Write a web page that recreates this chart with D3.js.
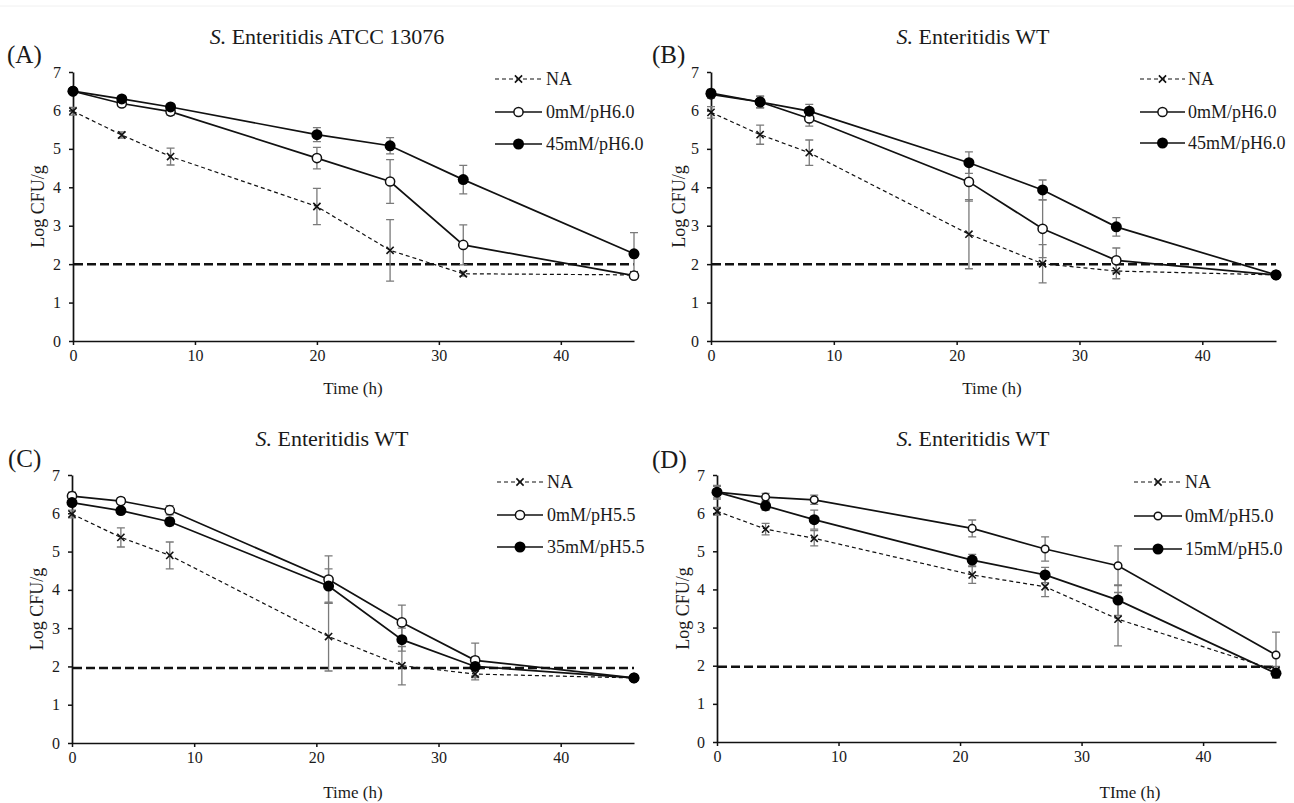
<!DOCTYPE html>
<html><head><meta charset="utf-8">
<script src="https://cdn.jsdelivr.net/npm/d3@7"></script>
<style>
body{margin:0;background:#fff;}
svg text{font-family:"Liberation Serif","Times New Roman",serif;fill:#1a1a1a;}
</style></head><body>
<svg id="c" width="1294" height="803"></svg>
<script>
// ---------- data ----------
const timesA = [0, 4, 8, 20, 26, 32, 46];
const timesB = [0, 4, 8, 21, 27, 33, 46];
const xTicks = [0, 10, 20, 30, 40];
const yTicks = [0, 1, 2, 3, 4, 5, 6, 7];

const A_NA = [5.98, 5.36, 4.8, 3.5, 2.36, 1.75, 1.72];
const A_NA_err = [0.1, 0.08, 0.22, 0.47, 0.8, 0.06, 0.05];
const A_0mM = [6.5, 6.18, 5.97, 4.76, 4.15, 2.5, 1.7];
const A_0mM_err = [0.08, 0.08, 0.1, 0.28, 0.57, 0.52, 0.05];
const A_45mM = [6.5, 6.3, 6.09, 5.37, 5.08, 4.2, 2.27];
const A_45mM_err = [0.07, 0.07, 0.07, 0.18, 0.21, 0.37, 0.55];

const B_NA = [5.95, 5.37, 4.9, 2.78, 2.01, 1.82, 1.72];
const B_NA_err = [0.15, 0.25, 0.33, 0.9, 0.5, 0.2, 0.05];
const B_0mM = [6.42, 6.22, 5.79, 4.14, 2.92, 2.1, 1.72];
const B_0mM_err = [0.1, 0.15, 0.2, 0.5, 0.75, 0.32, 0.05];
const B_45mM = [6.45, 6.22, 5.98, 4.64, 3.93, 2.97, 1.72];
const B_45mM_err = [0.1, 0.15, 0.18, 0.28, 0.26, 0.24, 0.05];

const C_NA = [5.98, 5.37, 4.9, 2.78, 2.02, 1.8, 1.7];
const C_NA_err = [0.1, 0.25, 0.35, 0.9, 0.5, 0.15, 0.05];
const C_0mM = [6.45, 6.32, 6.08, 4.27, 3.15, 2.16, 1.7];
const C_0mM_err = [0.1, 0.08, 0.12, 0.62, 0.45, 0.45, 0.05];
const C_35mM = [6.28, 6.07, 5.78, 4.1, 2.7, 2.0, 1.7];
const C_35mM_err = [0.08, 0.08, 0.1, 0.45, 0.3, 0.25, 0.05];

const D_NA = [6.05, 5.58, 5.34, 4.38, 4.07, 3.22, 1.88];
const D_NA_err = [0.1, 0.15, 0.2, 0.22, 0.26, 0.7, 0.1];
const D_0mM = [6.55, 6.42, 6.35, 5.6, 5.06, 4.62, 2.28];
const D_0mM_err = [0.15, 0.1, 0.12, 0.22, 0.32, 0.52, 0.6];
const D_15mM = [6.55, 6.19, 5.83, 4.77, 4.38, 3.72, 1.8];
const D_15mM_err = [0.18, 0.12, 0.25, 0.15, 0.2, 0.4, 0.12];

const thresholds = [2, 2, 1.96, 1.97];
const panelLetters = ["(A)", "(B)", "(C)", "(D)"];
const panelStrains = ["Enteritidis ATCC 13076", "Enteritidis WT", "Enteritidis WT", "Enteritidis WT"];
const legendA = ["NA", "0mM/pH6.0", "45mM/pH6.0"];
const legendB = ["NA", "0mM/pH6.0", "45mM/pH6.0"];
const legendC = ["NA", "0mM/pH5.5", "35mM/pH5.5"];
const legendD = ["NA", "0mM/pH5.0", "15mM/pH5.0"];
const xTitles = ["Time (h)", "Time (h)", "Time (h)", "TIme (h)"];
const yTitle = "Log CFU/g";

// ---------- layout ----------
const panels = [
  {x0:73, x1:634, yT:72, yB:341, times:timesA, series:[[A_NA,A_NA_err],[A_0mM,A_0mM_err],[A_45mM,A_45mM_err]], legend:legendA,
   titleX:327, titleY:44, letterX:7, letterY:63, yTitleX:38, xTitleX:353, xTitleY:388, leg:{x0:495,x1:542,tx:546,ys:[79,112,144]}, openR:4.6},
  {x0:711, x1:1276, yT:72, yB:341, times:timesB, series:[[B_NA,B_NA_err],[B_0mM,B_0mM_err],[B_45mM,B_45mM_err]], legend:legendB,
   titleX:973, titleY:44, letterX:652, letterY:63, yTitleX:679, xTitleX:992, xTitleY:388, leg:{x0:1140,x1:1185,tx:1188,ys:[79,112,143]}, openR:4.6},
  {x0:72, x1:634, yT:475, yB:743, times:timesB, series:[[C_NA,C_NA_err],[C_0mM,C_0mM_err],[C_35mM,C_35mM_err]], legend:legendC,
   titleX:332, titleY:446, letterX:8, letterY:467, yTitleX:37, xTitleX:353, xTitleY:792, leg:{x0:497,x1:543,tx:547,ys:[482,515,547]}, openR:4.6},
  {x0:717, x1:1276, yT:475, yB:742, times:timesB, series:[[D_NA,D_NA_err],[D_0mM,D_0mM_err],[D_15mM,D_15mM_err]], legend:legendD,
   titleX:973, titleY:446, letterX:652, letterY:468, yTitleX:683, xTitleX:1130, xTitleY:792, leg:{x0:1134,x1:1182,tx:1185,ys:[482,516,549]}, openR:3.8}
];

const svg = d3.select("#c");
const defs = svg.append("defs");
defs.append("filter").attr("id","blur").attr("x","-5%").attr("y","-300%").attr("width","110%").attr("height","700%")
  .append("feGaussianBlur").attr("stdDeviation", 1.8);

// faint image border at top
svg.append("line").attr("x1",0).attr("x2",1294).attr("y1",6).attr("y2",6).attr("stroke","#f0f0f0").attr("stroke-width",1);

function xMark(g, x, y, s, sw){
  g.append("path").attr("d",`M${x-s},${y-s}L${x+s},${y+s}M${x-s},${y+s}L${x+s},${y-s}`)
    .attr("stroke","#111").attr("stroke-width",sw).attr("fill","none");
}

panels.forEach((p, i) => {
  const g = svg.append("g");
  const x = d3.scaleLinear().domain([0, 46]).range([p.x0, p.x1]);
  const y = d3.scaleLinear().domain([0, 7]).range([p.yB, p.yT]);

  // axes
  const ya = g.append("g").attr("transform",`translate(${p.x0},0)`)
    .call(d3.axisLeft(y).tickValues(yTicks).tickSize(4).tickSizeOuter(0).tickPadding(8).tickFormat(d3.format("d")));
  const xa = g.append("g").attr("transform",`translate(0,${p.yB})`)
    .call(d3.axisBottom(x).tickValues(xTicks).tickSize(4).tickSizeOuter(0).tickPadding(5).tickFormat(d3.format("d")));
  [ya, xa].forEach(a => {
    a.attr("font-family", null);
    a.select(".domain").attr("stroke","#111").attr("stroke-width",1.7);
    a.selectAll(".tick line").attr("stroke","#111").attr("stroke-width",1.5);
    a.selectAll(".tick text").attr("font-size",16).attr("fill","#1a1a1a")
      .style("font-family","'Liberation Serif','Times New Roman',serif");
  });

  // threshold line with soft shadow
  const ty = y(thresholds[i]);
  g.append("line").attr("x1",p.x0+1).attr("x2",p.x1).attr("y1",ty+3.5).attr("y2",ty+3.5)
    .attr("stroke","#a8a8a8").attr("stroke-width",4.5).attr("filter","url(#blur)");
  g.append("line").attr("x1",p.x0+1).attr("x2",p.x1).attr("y1",ty).attr("y2",ty)
    .attr("stroke","#111").attr("stroke-width",2.5).attr("stroke-dasharray","9,4");

  const line = d3.line().x(d => x(d[0])).y(d => y(d[1]));

  // error bars
  p.series.forEach(([vals, errs]) => {
    vals.forEach((v, k) => {
      const cx = x(p.times[k]);
      const e = errs[k];
      g.append("path").attr("d",`M${cx},${y(v+e)}V${y(v-e)}M${cx-4},${y(v+e)}H${cx+4}M${cx-4},${y(v-e)}H${cx+4}`)
        .attr("stroke","#7a7a7a").attr("stroke-width",1.3).attr("fill","none");
    });
  });

  // lines
  p.series.forEach(([vals], s) => {
    const pts = vals.map((v, k) => [p.times[k], v]);
    g.append("path").datum(pts).attr("d", line).attr("fill","none").attr("stroke","#111")
      .attr("stroke-width", s === 0 ? 1.2 : 1.7).attr("stroke-dasharray", s === 0 ? "4,3" : null);
  });

  // markers
  p.series.forEach(([vals], s) => {
    vals.forEach((v, k) => {
      const cx = x(p.times[k]), cy = y(v);
      if (s === 0) xMark(g, cx, cy, 3.6, 1.6);
      else if (s === 1) g.append("circle").attr("cx",cx).attr("cy",cy).attr("r",p.openR).attr("fill","#fff").attr("stroke","#111").attr("stroke-width",1.5);
      else g.append("circle").attr("cx",cx).attr("cy",cy).attr("r",5.5).attr("fill","#000");
    });
  });

  // legend
  p.legend.forEach((lab, s) => {
    const ly = p.leg.ys[s];
    const mx = (p.leg.x0 + p.leg.x1) / 2;
    g.append("line").attr("x1",p.leg.x0).attr("x2",p.leg.x1).attr("y1",ly).attr("y2",ly)
      .attr("stroke","#111").attr("stroke-width", s === 0 ? 1.2 : 1.7).attr("stroke-dasharray", s === 0 ? "4,3" : null);
    if (s === 0) xMark(g, mx, ly, 3.6, 1.6);
    else if (s === 1) g.append("circle").attr("cx",mx).attr("cy",ly).attr("r",p.openR).attr("fill","#fff").attr("stroke","#111").attr("stroke-width",1.5);
    else g.append("circle").attr("cx",mx).attr("cy",ly).attr("r",5.5).attr("fill","#000");
    g.append("text").attr("x",p.leg.tx).attr("y",ly).attr("dy","0.35em").attr("font-size",18).text(lab);
  });

  // titles
  const t = g.append("text").attr("x",p.titleX).attr("y",p.titleY).attr("text-anchor","middle").attr("font-size",22);
  t.append("tspan").attr("font-style","italic").text("S.");
  t.append("tspan").text(" " + panelStrains[i]);
  g.append("text").attr("x",p.letterX).attr("y",p.letterY).attr("font-size",25).text(panelLetters[i]);
  g.append("text").attr("transform",`translate(${p.yTitleX},${(p.yT+p.yB)/2}) rotate(-90)`).attr("text-anchor","middle")
    .attr("dy","0.35em").attr("font-size",18).text(yTitle);
  g.append("text").attr("x",p.xTitleX).attr("y",p.xTitleY).attr("text-anchor","middle").attr("dy","0.35em")
    .attr("font-size",17).text(xTitles[i]);
});
</script>
</body></html>
